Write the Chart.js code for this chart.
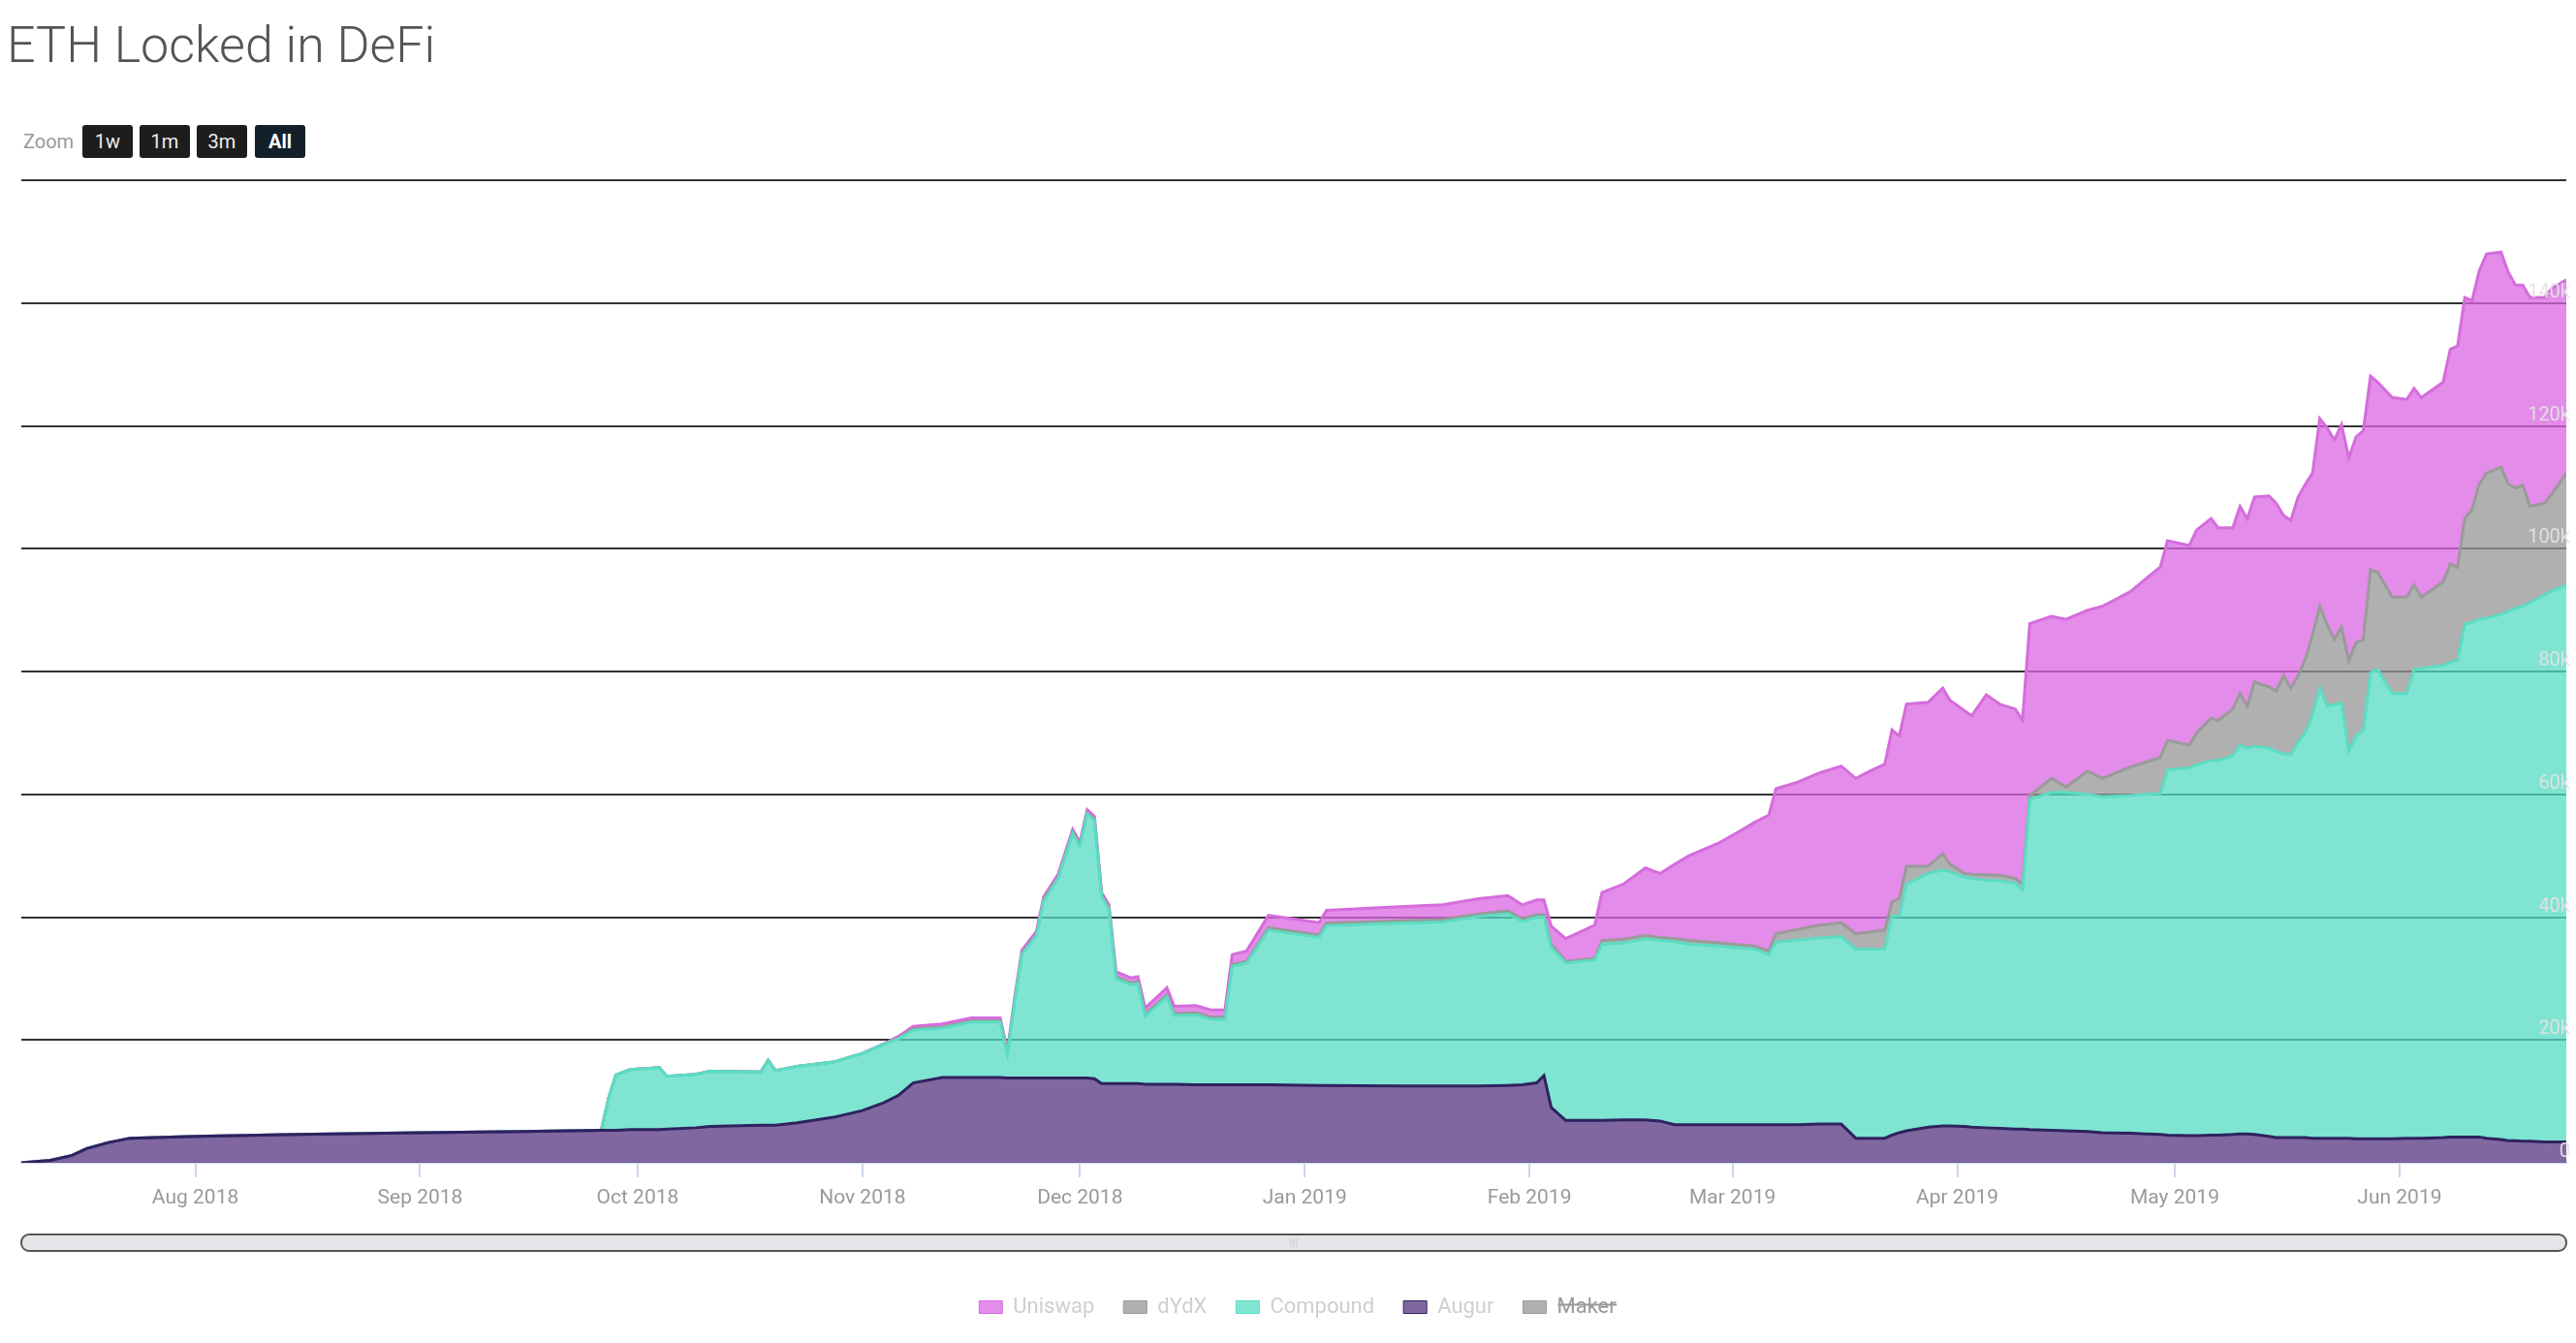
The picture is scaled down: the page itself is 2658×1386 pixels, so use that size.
<!DOCTYPE html>
<html>
<head>
<meta charset="utf-8">
<title>ETH Locked in DeFi</title>
<script src="https://cdn.jsdelivr.net/npm/chart.js@4.4.1/dist/chart.umd.min.js"></script>
<style>
  html, body { margin: 0; padding: 0; background: #fff; width: 2658px; height: 1386px; overflow: hidden; font-family: Roboto, "Liberation Sans", sans-serif; }
  #title { position: absolute; left: 7px; top: 19px; font-size: 52px; line-height: 56px; font-weight: 300; color: #555; white-space: nowrap; }
  #zoomLabel { position: absolute; left: 24px; top: 129px; height: 34px; line-height: 34px; font-size: 20px; color: #999; }
  .btn { position: absolute; top: 129px; width: 52px; height: 34px; line-height: 34px; border-radius: 3px; background: #1d1d1d; color: #eee; font-size: 20px; text-align: center; }
  .btn.on { background: #13202a; color: #fff; font-weight: bold; }
  #wrap { position: absolute; left: 0; top: 170px; width: 2658px; height: 1200px; }
</style>
</head>
<body>
<div id="title">ETH Locked in DeFi</div>
<div id="zoomLabel">Zoom</div>
<div class="btn" style="left:85px">1w</div>
<div class="btn" style="left:144px">1m</div>
<div class="btn" style="left:203px">3m</div>
<div class="btn on" style="left:263px">All</div>
<div id="wrap"><canvas id="chart" width="2658" height="1200"></canvas></div>
<script>
// values in thousands of ETH
const dates = [
  '2018-07-08','2018-07-12','2018-07-15','2018-07-17','2018-07-20','2018-07-23','2018-08-01','2018-08-15','2018-09-01','2018-09-15',
  '2018-09-26','2018-09-27','2018-09-28','2018-09-30','2018-10-04','2018-10-05','2018-10-09','2018-10-11','2018-10-18','2018-10-19',
  '2018-10-20','2018-10-23','2018-10-28','2018-11-01','2018-11-04','2018-11-06','2018-11-08','2018-11-12','2018-11-16','2018-11-20',
  '2018-11-21','2018-11-22','2018-11-23','2018-11-25','2018-11-26','2018-11-28','2018-11-30','2018-12-01','2018-12-02','2018-12-03',
  '2018-12-04','2018-12-05','2018-12-06','2018-12-08','2018-12-09','2018-12-10','2018-12-13','2018-12-14','2018-12-17','2018-12-19',
  '2018-12-21','2018-12-22','2018-12-24','2018-12-27','2019-01-03','2019-01-04','2019-01-14','2019-01-20','2019-01-25','2019-01-29',
  '2019-01-31','2019-02-02','2019-02-03','2019-02-04','2019-02-06','2019-02-10','2019-02-11','2019-02-14','2019-02-17','2019-02-19',
  '2019-02-21','2019-02-23','2019-02-27','2019-03-02','2019-03-04','2019-03-06','2019-03-07','2019-03-10','2019-03-13','2019-03-16',
  '2019-03-18','2019-03-20','2019-03-22','2019-03-23','2019-03-24','2019-03-25','2019-03-28','2019-03-30','2019-03-31','2019-04-02',
  '2019-04-03','2019-04-05','2019-04-07','2019-04-09','2019-04-10','2019-04-11','2019-04-14','2019-04-16','2019-04-19','2019-04-21',
  '2019-04-25','2019-04-27','2019-04-29','2019-04-30','2019-05-03','2019-05-04','2019-05-06','2019-05-07','2019-05-09','2019-05-10',
  '2019-05-11','2019-05-12','2019-05-14','2019-05-15','2019-05-16','2019-05-17','2019-05-18','2019-05-19','2019-05-20','2019-05-21',
  '2019-05-22','2019-05-23','2019-05-24','2019-05-25','2019-05-26','2019-05-27','2019-05-28','2019-05-29','2019-05-31','2019-06-02',
  '2019-06-03','2019-06-04','2019-06-07','2019-06-08','2019-06-09','2019-06-10','2019-06-11','2019-06-12','2019-06-13','2019-06-15',
  '2019-06-16','2019-06-17','2019-06-18','2019-06-19','2019-06-21','2019-06-22','2019-06-24'
];

const augur = [
  0, 0.4, 1.2, 2.3, 3.3, 4.0, 4.3, 4.6, 4.9, 5.1,
  5.3, 5.3, 5.3, 5.4, 5.4, 5.5, 5.7, 5.9, 6.1, 6.1,
  6.1, 6.5, 7.4, 8.5, 9.8, 11.0, 13.0, 13.9, 13.9, 13.9,
  13.8, 13.8, 13.8, 13.8, 13.8, 13.8, 13.8, 13.8, 13.8, 13.7,
  12.9, 12.9, 12.9, 12.9, 12.9, 12.8, 12.8, 12.8, 12.7, 12.7,
  12.7, 12.7, 12.7, 12.7, 12.6, 12.6, 12.5, 12.5, 12.5, 12.6,
  12.7, 13.0, 14.2, 9.0, 6.9, 6.9, 6.9, 7.0, 7.0, 6.8,
  6.2, 6.2, 6.2, 6.2, 6.2, 6.2, 6.2, 6.2, 6.3, 6.3,
  4.0, 4.0, 4.0, 4.5, 4.9, 5.2, 5.8, 6.0, 6.0, 5.9,
  5.8, 5.7, 5.6, 5.5, 5.5, 5.4, 5.3, 5.2, 5.1, 4.9,
  4.8, 4.7, 4.6, 4.5, 4.4, 4.4, 4.5, 4.5, 4.6, 4.7,
  4.7, 4.6, 4.3, 4.1, 4.1, 4.1, 4.1, 4.1, 4.0, 4.0,
  4.0, 4.0, 4.0, 4.0, 3.9, 3.9, 3.9, 3.9, 3.9, 4.0,
  4.0, 4.0, 4.1, 4.2, 4.2, 4.2, 4.2, 4.2, 4.0, 3.8,
  3.6, 3.6, 3.5, 3.5, 3.4, 3.4, 3.4
];

const compound = [
  0, 0, 0, 0, 0, 0, 0, 0, 0, 0,
  0, 5.2, 9.0, 9.8, 10.1, 8.6, 8.7, 9.0, 8.7, 10.6,
  8.9, 9.2, 9.0, 9.3, 9.5, 9.2, 8.6, 8.0, 9.0, 9.0,
  3.9, 12.4, 20.1, 23.2, 28.8, 32.5, 39.8, 37.7, 43.0, 42.0,
  30.4, 28.4, 17.1, 16.1, 16.3, 11.1, 14.2, 11.2, 11.4, 10.7,
  10.6, 19.3, 19.8, 25.2, 24.1, 26.0, 26.5, 26.7, 27.6, 28.0,
  26.6, 27.0, 25.8, 26.1, 25.6, 26.1, 28.7, 28.8, 29.5, 29.4,
  29.8, 29.4, 29.1, 28.8, 28.6, 27.7, 29.7, 30.1, 30.3, 30.5,
  30.8, 30.8, 30.8, 35.7, 35.3, 40.2, 41.3, 41.7, 41.4, 40.6,
  40.5, 40.3, 40.3, 40.0, 39.0, 53.8, 55.0, 55.1, 54.9, 54.7,
  55.0, 55.3, 55.5, 59.5, 59.9, 60.4, 61.0, 61.0, 61.7, 63.3,
  62.8, 63.2, 63.2, 62.9, 62.5, 62.4, 64.4, 65.9, 69.0, 73.3,
  70.4, 70.6, 70.9, 63.0, 65.6, 66.5, 75.9, 76.4, 72.5, 72.4,
  76.3, 76.5, 76.9, 77.3, 77.6, 83.5, 83.8, 84.3, 84.7, 85.5,
  86.2, 86.7, 87.1, 87.7, 89.1, 89.7, 90.7
];

const dydx = [
  0, 0, 0, 0, 0, 0, 0, 0, 0, 0,
  0, 0, 0, 0, 0, 0, 0, 0, 0, 0,
  0, 0, 0, 0, 0, 0.1, 0.2, 0.2, 0.2, 0.2,
  0.2, 0.2, 0.2, 0.2, 0.2, 0.2, 0.2, 0.2, 0.2, 0.2,
  0.2, 0.2, 0.3, 0.3, 0.3, 0.3, 0.3, 0.3, 0.3, 0.3,
  0.4, 0.3, 0.3, 0.4, 0.4, 0.4, 0.4, 0.4, 0.4, 0.4,
  0.4, 0.4, 0.4, 0.5, 0.3, 0.3, 0.6, 0.6, 0.5, 0.5,
  0.5, 0.6, 0.5, 0.5, 0.5, 0.6, 1.4, 1.7, 2.1, 2.3,
  2.5, 2.8, 3.1, 2.3, 2.8, 2.9, 1.2, 2.6, 1.2, 0.6,
  0.7, 0.9, 0.9, 0.8, 0.9, 0.6, 2.3, 0.9, 3.8, 3.0,
  4.7, 5.2, 5.9, 4.8, 3.7, 5.2, 6.9, 6.5, 7.6, 8.4,
  6.9, 10.5, 10.0, 9.8, 12.7, 10.8, 10.8, 12.0, 13.0, 13.3,
  13.3, 10.6, 12.3, 14.8, 15.2, 14.8, 16.8, 15.8, 15.7, 15.7,
  13.8, 11.6, 13.6, 16.0, 15.2, 17.2, 18.4, 22.0, 23.6, 24.0,
  20.7, 19.6, 19.7, 15.7, 14.9, 15.8, 18.2
];

const uniswap = [
  0, 0, 0, 0, 0, 0, 0, 0, 0, 0,
  0, 0, 0, 0, 0, 0, 0, 0, 0, 0,
  0, 0, 0, 0, 0.1, 0.3, 0.4, 0.5, 0.5, 0.5,
  0.4, 0.5, 0.5, 0.5, 0.5, 0.5, 0.5, 0.5, 0.5, 0.5,
  0.5, 0.5, 0.8, 0.8, 0.8, 1.0, 1.2, 1.2, 1.2, 1.2,
  1.2, 1.6, 1.7, 2.0, 2.0, 2.1, 2.3, 2.4, 2.5, 2.5,
  2.3, 2.4, 2.4, 2.9, 3.7, 5.4, 7.8, 9.0, 11.0, 10.4,
  12.1, 13.8, 16.2, 18.5, 20.1, 22.1, 23.6, 24.0, 24.8, 25.5,
  25.3, 26.2, 27.0, 28.0, 26.5, 26.4, 26.7, 27.0, 26.7, 26.5,
  25.8, 29.3, 27.8, 27.6, 26.7, 28.0, 26.4, 27.3, 26.2, 28.0,
  28.6, 29.9, 31.0, 32.5, 32.5, 33.0, 32.5, 31.4, 29.5, 30.5,
  30.5, 30.1, 31.1, 30.6, 26.1, 27.3, 29.1, 28.5, 26.3, 30.6,
  32.0, 32.5, 33.0, 33.0, 33.5, 34.0, 31.5, 31.0, 32.5, 32.2,
  32.0, 32.5, 32.5, 35.0, 36.0, 36.0, 34.0, 34.8, 35.7, 35.0,
  34.5, 33.0, 32.6, 34.0, 33.5, 33.5, 31.5
];

// Maker is switched off in the legend, so nothing of it is drawn
const maker = [];

const monthTicks = ['2018-08-01','2018-09-01','2018-10-01','2018-11-01','2018-12-01','2019-01-01',
                    '2019-02-01','2019-03-01','2019-04-01','2019-05-01','2019-06-01'];
const monthLabels = ['Aug 2018','Sep 2018','Oct 2018','Nov 2018','Dec 2018','Jan 2019',
                     'Feb 2019','Mar 2019','Apr 2019','May 2019','Jun 2019'];
const legendOrder = ['Uniswap', 'dYdX', 'Compound', 'Augur', 'Maker'];

const toPoints = vals => vals.map((v, i) => ({ x: Date.parse(dates[i]), y: v }));

function area(label, vals, fill, line, width, fillTo) {
    return {
        label: label,
        data: toPoints(vals),
        backgroundColor: fill,
        borderColor: line,
        borderWidth: width,
        pointRadius: 0,
        tension: 0,
        fill: fillTo
    };
}

// thin scrollbar under the axis, like the navigator of the original
const scrollbar = {
    id: 'scrollbar',
    afterDraw(chart) {
        const { ctx, chartArea: a } = chart;
        const top = a.bottom + 74, h = 17;
        ctx.save();
        ctx.beginPath();
        ctx.roundRect(a.left, top, a.right - a.left, h, 8);
        ctx.fillStyle = '#e4e6ea';
        ctx.fill();
        ctx.lineWidth = 2;
        ctx.strokeStyle = '#555';
        ctx.stroke();
        const mid = (a.left + a.right) / 2;
        ctx.strokeStyle = '#c8cbd0';
        ctx.lineWidth = 1;
        [-3, 0, 3].forEach(o => {
            ctx.beginPath();
            ctx.moveTo(mid + o, top + 4);
            ctx.lineTo(mid + o, top + h - 4);
            ctx.stroke();
        });
        ctx.restore();
    }
};

new Chart(document.getElementById('chart'), {
    type: 'line',
    data: {
        datasets: [
            area('Augur', augur, 'rgba(85, 52, 127, 0.75)', '#2e2260', 3, 'origin'),
            area('Compound', compound, 'rgba(84, 220, 195, 0.75)', '#5cdcc3', 3, '-1'),
            area('dYdX', dydx, 'rgba(150, 150, 150, 0.75)', '#9a9a9a', 3, '-1'),
            area('Uniswap', uniswap, 'rgba(218, 102, 226, 0.75)', '#d56cdc', 3, '-1'),
            Object.assign(area('Maker', maker, 'rgba(150, 150, 150, 0.75)', '#9a9a9a', 3, '-1'), { hidden: true })
        ]
    },
    options: {
        responsive: false,
        animation: false,
        events: [],
        layout: { padding: { top: 13, left: 22, right: 2, bottom: 0 } },
        scales: {
            x: {
                type: 'linear',
                min: Date.parse('2018-07-08'),
                max: Date.parse('2019-06-24'),
                afterBuildTicks: axis => { axis.ticks = monthTicks.map(d => ({ value: Date.parse(d) })); },
                afterFit: axis => { axis.height = 108; },
                ticks: {
                    autoSkip: false,
                    maxRotation: 0,
                    padding: 9,
                    color: '#999',
                    font: { family: 'Roboto', size: 21 },
                    callback: (v, i) => monthLabels[i]
                },
                grid: { drawOnChartArea: false, drawTicks: true, tickLength: 15, color: '#ccd6eb', lineWidth: 2 },
                border: { display: true, color: '#ccd6eb', width: 2 }
            },
            y: {
                stacked: true,
                position: 'right',
                min: 0,
                max: 160,
                ticks: {
                    z: 1,
                    stepSize: 20,
                    mirror: true,
                    padding: 4,
                    labelOffset: -11,
                    color: 'rgba(225, 225, 225, 0.95)',
                    font: { family: 'Roboto', size: 20 },
                    callback: v => v === 160 ? '' : (v === 0 ? '0' : v + 'k')
                },
                grid: {
                    drawTicks: false,
                    lineWidth: 2,
                    color: ctx => ctx.tick.value === 0 ? '#ccd6eb' : '#333'
                },
                border: { display: false }
            }
        },
        plugins: {
            tooltip: { enabled: false },
            legend: {
                position: 'bottom',
                labels: {
                    boxWidth: 24,
                    boxHeight: 13,
                    padding: 30,
                    color: '#cfcfcf',
                    font: { family: 'Roboto', size: 22 },
                    sort: (a, b) => legendOrder.indexOf(a.text) - legendOrder.indexOf(b.text),
                    generateLabels: chart => Chart.defaults.plugins.legend.labels.generateLabels(chart)
                        .map(item => Object.assign(item, { fontColor: item.hidden ? '#9a9a9a' : '#cfcfcf', lineWidth: 1 }))
                }
            }
        }
    },
    plugins: [scrollbar]
});
</script>
</body>
</html>
